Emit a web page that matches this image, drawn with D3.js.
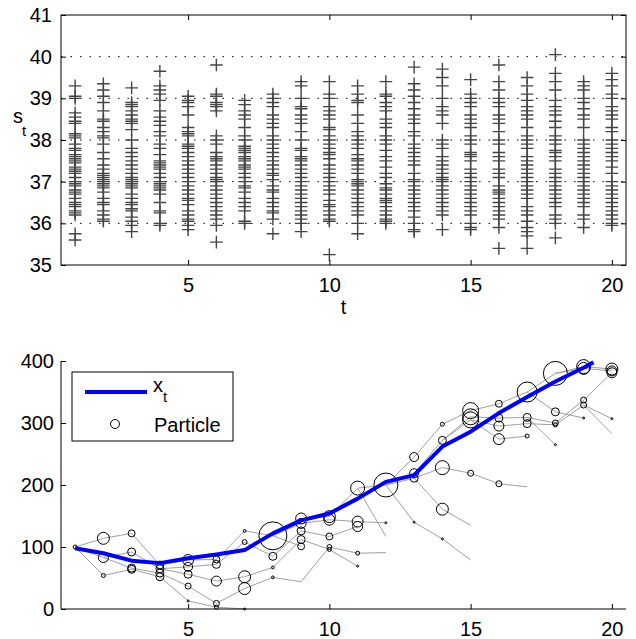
<!DOCTYPE html>
<html>
<head>
<meta charset="utf-8">
<script src="https://cdn.jsdelivr.net/npm/d3@7/dist/d3.min.js"></script>
<style>
body { margin: 0; background: #fff; }
text { font-family: "Liberation Sans", Arial, sans-serif; fill: #000; }
</style>
</head>
<body>
<svg id="chart" width="636" height="639"></svg>
<script>
// time axis, shared by both panels
var timeSteps = d3.range(1, 21);
var tTicks = [5, 10, 15, 20];
var sTicks = [35, 36, 37, 38, 39, 40, 41];
var xTicksLeft = [0, 100, 200, 300, 400];

// s_t samples for each time step (upper panel)
var sSamples = [
  [39.3, 39.05, 39.0, 38.65, 38.55, 38.45, 38.4, 38.15, 38.1, 38.05, 37.9, 37.8, 37.75, 37.65, 37.6, 37.55, 37.5, 37.45, 37.35, 37.3, 37.25, 37.2, 37.1, 37.0, 36.95, 36.9, 36.8, 36.75, 36.7, 36.6, 36.5, 36.45, 36.4, 36.3, 36.25, 36.2, 35.75, 35.6],
  [39.35, 39.2, 39.05, 38.9, 38.7, 38.5, 38.45, 38.3, 38.2, 38.1, 38.05, 37.9, 37.7, 37.55, 37.4, 37.3, 37.2, 37.15, 37.1, 37.05, 37.0, 36.95, 36.9, 36.85, 36.75, 36.6, 36.5, 36.45, 36.3, 36.2, 36.1, 36.05],
  [39.25, 38.9, 38.85, 38.8, 38.7, 38.6, 38.5, 38.45, 38.4, 38.25, 38.0, 37.8, 37.7, 37.6, 37.5, 37.4, 37.3, 37.2, 37.1, 37.05, 37.0, 36.95, 36.9, 36.85, 36.7, 36.6, 36.5, 36.45, 36.35, 36.3, 36.15, 36.05, 35.95, 35.8],
  [39.65, 39.3, 39.2, 39.1, 38.95, 38.7, 38.55, 38.45, 38.35, 38.2, 38.1, 37.9, 37.8, 37.65, 37.5, 37.45, 37.4, 37.35, 37.3, 37.2, 37.1, 37.0, 36.95, 36.9, 36.85, 36.8, 36.7, 36.5, 36.3, 36.25, 36.0, 35.95],
  [39.05, 38.95, 38.9, 38.8, 38.6, 38.3, 38.2, 38.15, 38.1, 37.9, 37.85, 37.8, 37.7, 37.6, 37.5, 37.4, 37.3, 37.2, 37.1, 37.0, 36.9, 36.8, 36.7, 36.6, 36.55, 36.45, 36.3, 36.2, 36.1, 36.05, 35.95, 35.85],
  [39.8, 39.1, 39.05, 38.9, 38.85, 38.8, 38.7, 38.1, 38.0, 37.9, 37.7, 37.6, 37.55, 37.5, 37.4, 37.3, 37.2, 37.1, 37.05, 37.0, 36.9, 36.8, 36.7, 36.6, 36.5, 36.4, 36.3, 36.2, 36.1, 35.95, 35.55],
  [38.95, 38.85, 38.7, 38.6, 38.5, 38.3, 38.1, 38.0, 37.85, 37.8, 37.75, 37.7, 37.6, 37.55, 37.5, 37.4, 37.35, 37.3, 37.2, 37.1, 37.0, 36.9, 36.85, 36.75, 36.6, 36.5, 36.4, 36.3, 36.05, 36.0],
  [39.1, 39.0, 38.9, 38.8, 38.6, 38.5, 38.4, 38.3, 38.1, 38.0, 37.9, 37.8, 37.7, 37.6, 37.5, 37.4, 37.3, 37.2, 37.15, 37.05, 36.9, 36.8, 36.75, 36.6, 36.5, 36.4, 36.3, 36.25, 36.1, 35.75],
  [39.4, 39.3, 39.0, 38.8, 38.75, 38.6, 38.5, 38.4, 38.2, 38.0, 37.8, 37.75, 37.6, 37.55, 37.5, 37.4, 37.3, 37.2, 37.1, 37.0, 36.9, 36.8, 36.7, 36.6, 36.5, 36.4, 36.3, 36.2, 36.1, 36.0, 35.8],
  [39.4, 39.1, 39.0, 38.8, 38.7, 38.6, 38.5, 38.3, 38.25, 38.1, 38.0, 37.9, 37.8, 37.7, 37.65, 37.55, 37.4, 37.3, 37.2, 37.1, 37.0, 36.9, 36.8, 36.7, 36.55, 36.45, 36.4, 36.3, 36.2, 36.1, 36.05, 35.25],
  [39.3, 39.1, 38.95, 38.9, 38.6, 38.4, 38.2, 38.1, 38.0, 37.9, 37.8, 37.65, 37.55, 37.5, 37.4, 37.3, 37.2, 37.05, 37.0, 36.95, 36.9, 36.8, 36.7, 36.6, 36.5, 36.4, 36.3, 36.2, 36.0, 35.75],
  [39.4, 39.1, 39.05, 38.9, 38.8, 38.7, 38.5, 38.4, 38.3, 38.1, 38.0, 37.9, 37.75, 37.6, 37.5, 37.35, 37.2, 37.1, 36.95, 36.85, 36.8, 36.7, 36.6, 36.55, 36.5, 36.4, 36.3, 36.2, 36.1, 36.05, 36.0],
  [39.75, 39.35, 39.2, 39.05, 38.9, 38.75, 38.6, 38.5, 38.4, 38.2, 38.1, 37.9, 37.8, 37.7, 37.6, 37.5, 37.4, 37.2, 37.05, 37.0, 36.9, 36.8, 36.7, 36.6, 36.5, 36.4, 36.3, 36.15, 36.0, 35.85, 35.8],
  [39.7, 39.5, 39.3, 39.0, 38.8, 38.7, 38.6, 38.4, 38.0, 37.9, 37.8, 37.6, 37.5, 37.4, 37.3, 37.2, 37.1, 37.05, 37.0, 36.9, 36.8, 36.7, 36.6, 36.5, 36.4, 36.3, 36.2, 35.85],
  [39.45, 39.1, 39.0, 38.9, 38.8, 38.6, 38.5, 38.4, 38.3, 38.1, 38.0, 37.9, 37.7, 37.65, 37.6, 37.5, 37.3, 37.2, 37.1, 37.0, 36.9, 36.8, 36.7, 36.6, 36.5, 36.4, 36.3, 36.2, 36.0, 35.9, 35.85],
  [39.8, 39.4, 39.2, 39.0, 38.9, 38.8, 38.6, 38.5, 38.4, 38.2, 38.0, 37.9, 37.7, 37.6, 37.5, 37.3, 37.2, 37.1, 36.9, 36.8, 36.75, 36.7, 36.6, 36.5, 36.4, 36.3, 36.2, 36.1, 35.9, 35.4],
  [39.5, 39.3, 39.1, 38.95, 38.8, 38.7, 38.6, 38.5, 38.3, 38.1, 38.0, 37.9, 37.8, 37.6, 37.5, 37.4, 37.3, 37.2, 37.1, 37.0, 36.9, 36.8, 36.7, 36.6, 36.4, 36.3, 36.2, 36.05, 35.9, 35.8, 35.7, 35.4],
  [40.05, 39.6, 39.4, 39.2, 38.95, 38.8, 38.7, 38.6, 38.45, 38.3, 38.1, 38.0, 37.9, 37.75, 37.7, 37.6, 37.5, 37.3, 37.2, 37.1, 37.0, 36.9, 36.8, 36.7, 36.6, 36.5, 36.4, 36.2, 36.1, 36.0, 35.65],
  [39.4, 39.3, 39.2, 39.0, 38.9, 38.75, 38.6, 38.5, 38.3, 38.0, 37.9, 37.8, 37.7, 37.6, 37.5, 37.4, 37.3, 37.2, 37.1, 37.0, 36.9, 36.8, 36.7, 36.6, 36.5, 36.4, 36.2, 36.1, 35.9],
  [39.6, 39.45, 39.3, 39.1, 39.0, 38.8, 38.7, 38.6, 38.5, 38.3, 38.2, 38.0, 37.9, 37.8, 37.7, 37.6, 37.5, 37.35, 37.2, 37.0, 36.9, 36.8, 36.7, 36.6, 36.5, 36.4, 36.3, 36.2, 36.1, 36.0, 35.95]
];

// true state x_t (lower panel)
var xTrueT = [1, 2, 3, 4, 5, 6, 7, 8, 9, 10, 11, 12, 13, 14, 15, 16, 17, 18, 19, 19.35];
var xTrueV = [98, 90, 78, 74, 82, 88, 95, 122, 143, 154, 178, 205, 216, 262, 286, 316, 342, 367, 389, 398];

// particles per time step: value, weight, parent index in previous step
var partVals = [
  [100],
  [114, 83, 54],
  [122, 92, 66, 64],
  [71, 65, 58, 52],
  [79, 68, 56, 37, 13],
  [80, 72, 45, 9, 3],
  [126, 108, 52, 33, 0],
  [118, 85, 67, 51],
  [146, 138, 126, 112, 101, 44],
  [149, 144, 117, 100, 96],
  [195, 141, 133, 90, 69],
  [200, 139, 117, 91],
  [245, 219, 211, 140],
  [298, 272, 228, 161, 113],
  [320, 310, 305, 219, 135, 79],
  [331, 308, 295, 274, 202],
  [350, 309, 299, 279, 197],
  [380, 318, 300, 297, 265],
  [391, 388, 337, 329, 308],
  [387, 384, 381, 307, 283]
];
var partWeights = [
  [0.4],
  [3.6, 2.5, 0.4],
  [1.2, 1.6, 1.6, 1.6],
  [1.6, 1.6, 1.6, 1.6],
  [3, 2, 1.6, 0.9, 0.1],
  [1.2, 1.6, 2.5, 0.9, 0.4],
  [0.2, 0.6, 3.6, 3.6, 0.1],
  [19.6, 1.6, 0.2, 0.2],
  [3, 2.5, 1.6, 1.6, 1.2, 0],
  [3.6, 3, 1.2, 0.6, 0.4],
  [4.9, 3, 2.5, 0.4, 0.1],
  [14.4, 0.1, 0, 0],
  [2, 2, 1.6, 0.1],
  [0.4, 1.6, 4.9, 3.6, 0.1],
  [6.4, 6.4, 6.4, 0.9, 0, 0],
  [1.2, 1.6, 2.5, 3, 0.9],
  [10, 1.6, 1.6, 0.4, 0],
  [14.4, 1.6, 0.9, 0.4, 0.1],
  [4.9, 3.6, 0.9, 0.9, 0.1],
  [3.6, 2.5, 2.5, 0.1, 0]
];
var partParents = [
  [-1],
  [0, 0, 0],
  [0, 1, 1, 2],
  [0, 1, 2, 3],
  [0, 1, 1, 2, 3],
  [0, 1, 2, 3, 4],
  [0, 1, 2, 3, 4],
  [0, 1, 2, 3],
  [0, 0, 1, 2, 0, 3],
  [0, 1, 2, 5, 3],
  [0, 1, 2, 3, 4],
  [0, 1, 0, 3],
  [0, 0, 0, 0],
  [0, 1, 2, 2, 3],
  [0, 1, 1, 2, 3, 4],
  [0, 1, 2, 2, 3],
  [0, 1, 2, 3, 4],
  [0, 0, 1, 2, 1],
  [0, 0, 2, 3, 1],
  [0, 1, 2, 3, 3]
];

var svg = d3.select('#chart');
var left = 61, right = 626;

var x = d3.scaleLinear().domain([0.5, 20.5]).range([left, right]);

// ---------- upper panel ----------
var top1 = 15, bot1 = 265;
var y1 = d3.scaleLinear().domain([35, 41]).range([bot1, top1]);
var g1 = svg.append('g');

// dotted grid
g1.selectAll('.grid')
  .data(sTicks.slice(1, -1))
  .enter().append('line')
    .attr('x1', left).attr('x2', right)
    .attr('y1', function(d) { return y1(d); })
    .attr('y2', function(d) { return y1(d); })
    .attr('stroke', '#000')
    .attr('stroke-width', 1)
    .attr('stroke-dasharray', '1.5,8');

var plusPts = [];
sSamples.forEach(function(col, i) {
  col.forEach(function(v) { plusPts.push({t: timeSteps[i], v: v}); });
});
g1.selectAll('.plus')
  .data(plusPts)
  .enter().append('path')
    .attr('d', 'M-6.3,0H6.3M0,-6.3V6.3')
    .attr('transform', function(d) { return 'translate(' + x(d.t) + ',' + y1(d.v) + ')'; })
    .attr('stroke', '#454545')
    .attr('stroke-width', 1.4)
    .attr('fill', 'none');

function styleAxis(sel) {
  sel.select('.domain').remove();
  sel.selectAll('.tick line').attr('stroke', '#000');
  sel.selectAll('.tick text')
    .style('font-family', '"Liberation Sans", Arial, sans-serif')
    .style('font-size', '20px')
    .attr('fill', '#000');
}

g1.append('g')
  .attr('transform', 'translate(0,' + bot1 + ')')
  .call(d3.axisBottom(x).tickValues(tTicks).tickSize(-5).tickPadding(13).tickFormat(d3.format('d')))
  .call(styleAxis);
g1.append('g')
  .attr('transform', 'translate(0,' + top1 + ')')
  .call(d3.axisTop(x).tickValues(tTicks).tickSize(-5).tickFormat(''))
  .call(styleAxis);
g1.append('g')
  .attr('transform', 'translate(' + left + ',0)')
  .call(d3.axisLeft(y1).tickValues(sTicks).tickSize(-5).tickPadding(9).tickFormat(d3.format('d')))
  .call(styleAxis);
g1.append('g')
  .attr('transform', 'translate(' + right + ',0)')
  .call(d3.axisRight(y1).tickValues(sTicks).tickSize(-5).tickFormat(''))
  .call(styleAxis);

g1.append('rect')
  .attr('x', left).attr('y', top1)
  .attr('width', right - left).attr('height', bot1 - top1)
  .attr('fill', 'none').attr('stroke', '#000').attr('stroke-width', 1);

g1.append('text')
  .attr('x', (left + right) / 2).attr('y', 314)
  .attr('text-anchor', 'middle')
  .style('font-size', '20px')
  .text('t');
g1.append('text').attr('x', 13).attr('y', 123).style('font-size', '20px').text('s');
g1.append('text').attr('x', 22).attr('y', 136).style('font-size', '15px').text('t');

// ---------- lower panel ----------
var top2 = 361, bot2 = 609;
var y2 = d3.scaleLinear().domain([0, 400]).range([bot2, top2]);
var r = d3.scaleSqrt().domain([0, 19.6]).range([0, 14]);
var g2 = svg.append('g');

// ancestry lines
var links = [];
var nodes = [];
partVals.forEach(function(vals, i) {
  vals.forEach(function(v, j) {
    nodes.push({t: timeSteps[i], v: v, w: partWeights[i][j]});
    var p = partParents[i][j];
    if (p >= 0) links.push({t0: timeSteps[i - 1], v0: partVals[i - 1][p], t1: timeSteps[i], v1: v});
  });
});

g2.selectAll('.link')
  .data(links)
  .enter().append('line')
    .attr('x1', function(d) { return x(d.t0); })
    .attr('y1', function(d) { return y2(d.v0); })
    .attr('x2', function(d) { return x(d.t1); })
    .attr('y2', function(d) { return y2(d.v1); })
    .attr('stroke', '#a0a0a0')
    .attr('stroke-width', 1);

g2.selectAll('.particle')
  .data(nodes.filter(function(d) { return d.w > 0; }))
  .enter().append('circle')
    .attr('cx', function(d) { return x(d.t); })
    .attr('cy', function(d) { return y2(d.v); })
    .attr('r', function(d) { return r(d.w); })
    .attr('fill', 'none')
    .attr('stroke', '#000')
    .attr('stroke-width', 1);

var line = d3.line()
  .x(function(d, i) { return x(xTrueT[i]); })
  .y(function(d) { return y2(d); });
g2.append('path')
  .datum(xTrueV)
  .attr('d', line)
  .attr('fill', 'none')
  .attr('stroke', '#0000ff')
  .attr('stroke-width', 4)
  .attr('stroke-linejoin', 'round');

g2.append('g')
  .attr('transform', 'translate(0,' + bot2 + ')')
  .call(d3.axisBottom(x).tickValues(tTicks).tickSize(-5).tickPadding(13).tickFormat(d3.format('d')))
  .call(styleAxis);
g2.append('g')
  .attr('transform', 'translate(' + left + ',0)')
  .call(d3.axisLeft(y2).tickValues(xTicksLeft).tickSize(-5).tickPadding(7).tickFormat(d3.format('d')))
  .call(styleAxis);
g2.append('line')
  .attr('x1', left).attr('x2', right).attr('y1', bot2).attr('y2', bot2)
  .attr('stroke', '#000');
g2.append('line')
  .attr('x1', left).attr('x2', left).attr('y1', top2).attr('y2', bot2)
  .attr('stroke', '#000');

// legend
var lg = g2.append('g');
lg.append('rect')
  .attr('x', 72).attr('y', 372).attr('width', 161).attr('height', 69)
  .attr('fill', '#fff').attr('stroke', '#000').attr('stroke-width', 1);
lg.append('line')
  .attr('x1', 85).attr('x2', 147).attr('y1', 392).attr('y2', 392)
  .attr('stroke', '#0000ff').attr('stroke-width', 4);
lg.append('text').attr('x', 153).attr('y', 392).style('font-size', '20px').text('x');
lg.append('text').attr('x', 163).attr('y', 402).style('font-size', '15px').text('t');
lg.append('circle')
  .attr('cx', 115).attr('cy', 424).attr('r', 4.5)
  .attr('fill', 'none').attr('stroke', '#000');
lg.append('text').attr('x', 154).attr('y', 432).style('font-size', '20px').text('Particle');
</script>
</body>
</html>
